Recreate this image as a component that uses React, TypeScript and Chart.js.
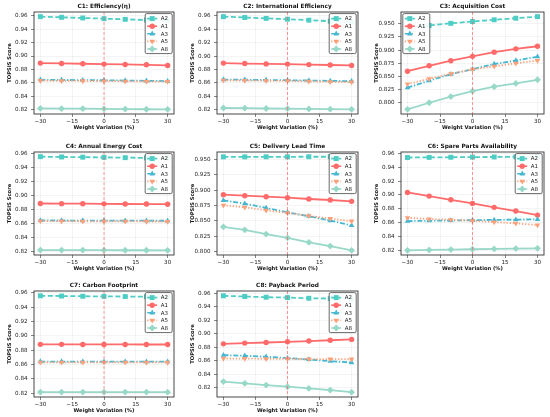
import { useEffect, useRef } from "react";
import { Chart, registerables } from "chart.js";
import type { Plugin } from "chart.js";
import { drawPoint } from "chart.js/helpers";

Chart.register(...registerables);

const weightVariation = [-30, -20, -10, 0, 10, 20, 30];
const alternatives = ["A2", "A1", "A3", "A5", "A8"];
const criteria = [
  "C1: Efficiency(η)",
  "C2: International Efficiency",
  "C3: Acquisition Cost",
  "C4: Annual Energy Cost",
  "C5: Delivery Lead Time",
  "C6: Spare Parts Availability",
  "C7: Carbon Footprint",
  "C8: Payback Period",
];

// rows follow the alternatives order: A2, A1, A3, A5, A8
const c1Scores = [
  [0.9585, 0.9575, 0.9565, 0.9555, 0.9545, 0.9535, 0.9525],
  [0.8895, 0.889, 0.8885, 0.888, 0.8875, 0.887, 0.886],
  [0.8648, 0.8645, 0.8642, 0.864, 0.8636, 0.8632, 0.8628],
  [0.8634, 0.8632, 0.863, 0.8628, 0.8625, 0.8622, 0.862],
  [0.8222, 0.822, 0.8218, 0.8215, 0.8213, 0.821, 0.8208],
];
const c2Scores = [
  [0.9588, 0.9575, 0.9562, 0.955, 0.9535, 0.952, 0.9507],
  [0.8895, 0.8888, 0.8883, 0.888, 0.8873, 0.8867, 0.886],
  [0.865, 0.8647, 0.8643, 0.864, 0.8635, 0.863, 0.8625],
  [0.8637, 0.8635, 0.8632, 0.863, 0.8623, 0.8617, 0.861],
  [0.8225, 0.8222, 0.8218, 0.8215, 0.8212, 0.8208, 0.8205],
];
const c3Scores = [
  [0.9415, 0.947, 0.951, 0.9545, 0.9578, 0.9608, 0.9638],
  [0.8596, 0.87, 0.8797, 0.888, 0.896, 0.9023, 0.9073],
  [0.8282, 0.8414, 0.854, 0.8635, 0.8734, 0.88, 0.8872],
  [0.8351, 0.8452, 0.8546, 0.863, 0.869, 0.8747, 0.88],
  [0.7868, 0.7994, 0.8113, 0.8215, 0.83, 0.8364, 0.8433],
];
const c4Scores = [
  [0.9557, 0.9553, 0.955, 0.9547, 0.9543, 0.954, 0.9537],
  [0.8885, 0.8883, 0.8882, 0.888, 0.8878, 0.8877, 0.8875],
  [0.8642, 0.8641, 0.864, 0.864, 0.8639, 0.8638, 0.8637],
  [0.8632, 0.8631, 0.863, 0.8629, 0.8628, 0.8627, 0.8626],
  [0.8217, 0.8216, 0.8216, 0.8215, 0.8214, 0.8214, 0.8213],
];
const c5Scores = [
  [0.9545, 0.9545, 0.9546, 0.9546, 0.9547, 0.9547, 0.9548],
  [0.8926, 0.891, 0.8894, 0.8877, 0.8856, 0.884, 0.8818],
  [0.8834, 0.878, 0.871, 0.8639, 0.8574, 0.8504, 0.8423],
  [0.8753, 0.872, 0.8672, 0.8628, 0.858, 0.8536, 0.8493],
  [0.8401, 0.8352, 0.8282, 0.8222, 0.8147, 0.8087, 0.8017],
];
const c6Scores = [
  [0.9538, 0.954, 0.9542, 0.9544, 0.9546, 0.9548, 0.955],
  [0.9036, 0.8984, 0.8931, 0.8879, 0.8822, 0.8769, 0.8711],
  [0.8625, 0.863, 0.8634, 0.8638, 0.8642, 0.8646, 0.865],
  [0.8673, 0.8654, 0.8644, 0.863, 0.8611, 0.8592, 0.8568],
  [0.8205, 0.821, 0.8215, 0.822, 0.8225, 0.823, 0.8234],
];
const c7Scores = [
  [0.9558, 0.9555, 0.9552, 0.955, 0.9548, 0.9545, 0.9543],
  [0.8881, 0.8881, 0.888, 0.888, 0.888, 0.8879, 0.8879],
  [0.8641, 0.8641, 0.864, 0.864, 0.864, 0.8639, 0.8639],
  [0.8631, 0.8631, 0.863, 0.863, 0.863, 0.8629, 0.8629],
  [0.8216, 0.8215, 0.8215, 0.8215, 0.8215, 0.8215, 0.8214],
];
const c8Scores = [
  [0.9565, 0.9555, 0.9544, 0.9539, 0.9529, 0.9524, 0.9515],
  [0.8852, 0.8863, 0.8872, 0.8882, 0.8893, 0.8905, 0.8918],
  [0.8685, 0.8675, 0.866, 0.864, 0.862, 0.8594, 0.8574],
  [0.8635, 0.8632, 0.863, 0.8628, 0.8626, 0.8625, 0.8624],
  [0.8291, 0.8266, 0.824, 0.8215, 0.819, 0.8165, 0.8134],
];
const allScores = [c1Scores, c2Scores, c3Scores, c4Scores, c5Scores, c6Scores, c7Scores, c8Scores];

const yTickSteps = [0.02, 0.02, 0.025, 0.02, 0.025, 0.02, 0.02, 0.02];
const legendSides = ["right", "right", "left", "right", "right", "right", "right", "right"];

const seriesStyles = [
  { color: "#4ECDC4", dash: [5, 2.5], pointStyle: "rect", radius: 3.5, rotation: 0 },
  { color: "#FF6B6B", dash: [], pointStyle: "circle", radius: 2.7, rotation: 0 },
  { color: "#45B7D1", dash: [5, 1.8, 1.3, 1.8], pointStyle: "triangle", radius: 3.2, rotation: 0 },
  { color: "#FFA07A", dash: [1.3, 1.8], pointStyle: "triangle", radius: 3.2, rotation: 180 },
  { color: "#98D8C8", dash: [], pointStyle: "rectRot", radius: 3.4, rotation: 0 },
];

// plot-area boxes, per column and per row
const colLeft = [33.5, 217, 400.5];
const colWidth = [141, 142, 144];
const rowTop = [12, 152, 291];
const rowHeight = [102, 103, 106];
const Y_AXIS_W = 34;
const TOP_H = 12;
const X_AXIS_H = 18;
const RIGHT_PAD = 3;

const FONT = "'DejaVu Sans', sans-serif";

const panelPlugin: Plugin<"line"> = {
  id: "panelDecor",
  afterDatasetsDraw(chart) {
    const { ctx, chartArea, scales } = chart;
    const x0 = scales.x.getPixelForValue(0);
    ctx.save();
    ctx.strokeStyle = "rgba(255,90,90,0.7)";
    ctx.lineWidth = 0.9;
    ctx.setLineDash([3, 2]);
    ctx.beginPath();
    ctx.moveTo(x0, chartArea.top);
    ctx.lineTo(x0, chartArea.bottom);
    ctx.stroke();
    ctx.restore();
  },
  afterDraw(chart, _args, opts: any) {
    const { ctx, chartArea } = chart;
    ctx.save();
    ctx.strokeStyle = "#333";
    ctx.lineWidth = 0.9;
    ctx.strokeRect(chartArea.left, chartArea.top, chartArea.width, chartArea.height);

    // panel title, centred over the plot area
    ctx.fillStyle = "#111";
    ctx.font = `bold 5.8px ${FONT}`;
    ctx.textAlign = "center";
    ctx.textBaseline = "middle";
    ctx.fillText(opts.title, (chartArea.left + chartArea.right) / 2, chartArea.top - 6);

    // legend box inside the plot
    const w = 27;
    const h = 40;
    const bx = opts.side === "left" ? chartArea.left + 1.8 : chartArea.right - 1.8 - w;
    const by = chartArea.top + 1.6;
    ctx.beginPath();
    ctx.roundRect(bx, by, w, h, 1.5);
    ctx.fillStyle = "rgba(255,255,255,0.9)";
    ctx.fill();
    ctx.strokeStyle = "#444";
    ctx.lineWidth = 0.8;
    ctx.stroke();

    ctx.font = `5.5px ${FONT}`;
    ctx.textBaseline = "middle";
    ctx.textAlign = "left";
    alternatives.forEach((name, i) => {
      const st = seriesStyles[i];
      const y = by + 5 + i * 7.6;
      ctx.strokeStyle = st.color;
      ctx.fillStyle = st.color;
      ctx.lineWidth = 1.6;
      ctx.setLineDash(st.dash);
      ctx.beginPath();
      ctx.moveTo(bx + 2, y);
      ctx.lineTo(bx + 12, y);
      ctx.stroke();
      ctx.setLineDash([]);
      drawPoint(
        ctx,
        { radius: st.radius, pointStyle: st.pointStyle as any, rotation: st.rotation, borderWidth: 0 },
        bx + 7,
        y,
      );
      ctx.fillStyle = "#222";
      ctx.fillText(name, bx + 15.5, y + 0.3);
    });
    ctx.restore();
  },
};

function Panel({ index }: { index: number }) {
  const canvasRef = useRef<HTMLCanvasElement | null>(null);
  const col = index % 3;
  const row = Math.floor(index / 3);
  const width = Y_AXIS_W + colWidth[col] + RIGHT_PAD;
  const height = TOP_H + rowHeight[row] + X_AXIS_H;

  useEffect(() => {
    const canvasElement = canvasRef.current;
    if (!canvasElement) {
      return;
    }
    const scores = allScores[index];
    const flat = scores.flat();
    const lo = Math.min(...flat);
    const hi = Math.max(...flat);
    const margin = (hi - lo) * 0.05;
    const step = yTickSteps[index];
    const decimals = step === 0.025 ? 3 : 2;

    const chart = new Chart(canvasElement, {
      type: "line",
      data: {
        datasets: alternatives.map((name, s) => ({
          label: name,
          data: weightVariation.map((x, i) => ({ x, y: scores[s][i] })),
          borderColor: seriesStyles[s].color,
          backgroundColor: seriesStyles[s].color,
          borderWidth: 1.8,
          borderDash: seriesStyles[s].dash,
          pointStyle: seriesStyles[s].pointStyle as any,
          pointRadius: seriesStyles[s].radius,
          pointRotation: seriesStyles[s].rotation,
          pointBackgroundColor: seriesStyles[s].color,
          pointBorderColor: seriesStyles[s].color,
          pointBorderWidth: 0,
          tension: 0,
          fill: false,
          order: alternatives.length - s,
        })),
      },
      options: {
        animation: false,
        responsive: false,
        devicePixelRatio: 1,
        layout: { padding: { left: 0, right: RIGHT_PAD, top: TOP_H, bottom: 0 } },
        events: [],
        scales: {
          x: {
            type: "linear",
            min: -33,
            max: 33,
            afterFit(scale) {
              scale.height = X_AXIS_H;
            },
            ticks: {
              stepSize: 15,
              includeBounds: false,
              autoSkip: false,
              maxRotation: 0,
              padding: 1,
              color: "#222",
              font: { family: FONT, size: 5.6 },
              callback(value) {
                const v = Number(value);
                return v < 0 ? `\u2212${Math.abs(v)}` : `${v}`;
              },
            },
            grid: {
              color: "rgba(0,0,0,0.08)",
              lineWidth: 0.6,
              tickColor: "#333",
              tickLength: 3,
            },
            border: { display: false },
            title: {
              display: true,
              text: "Weight Variation (%)",
              color: "#111",
              font: { family: FONT, size: 5.2, weight: "bold" },
              padding: { top: 0, bottom: 1.6 },
            },
          },
          y: {
            type: "linear",
            min: lo - margin,
            max: hi + margin,
            afterFit(scale) {
              scale.width = Y_AXIS_W;
            },
            ticks: {
              stepSize: step,
              includeBounds: false,
              autoSkip: false,
              padding: 3.5,
              color: "#222",
              font: { family: FONT, size: 5.6 },
              callback(value) {
                return Number(value).toFixed(decimals);
              },
            },
            grid: {
              color: "rgba(0,0,0,0.08)",
              lineWidth: 0.6,
              tickColor: "#333",
              tickLength: 3,
            },
            border: { display: false },
            title: {
              display: true,
              text: "TOPSIS Score",
              color: "#111",
              font: { family: FONT, size: 5.2, weight: "bold" },
              padding: { top: 6.4, bottom: 0 },
            },
          },
        },
        plugins: {
          legend: { display: false },
          tooltip: { enabled: false },
          title: { display: false },
          panelDecor: { side: legendSides[index], title: criteria[index] },
        } as any,
      },
      plugins: [panelPlugin],
    });

    return () => {
      chart.destroy();
    };
  }, [index]);

  return (
    <div
      style={{
        position: "absolute",
        left: colLeft[col] - Y_AXIS_W,
        top: rowTop[row] - TOP_H,
        width,
        height,
      }}
    >
      <canvas ref={canvasRef} width={width} height={height} style={{ width, height, display: "block" }} />
    </div>
  );
}

export default function App() {
  return (
    <div
      style={{
        position: "fixed",
        left: 0,
        top: 0,
        width: 550,
        height: 417,
        background: "#fff",
        overflow: "hidden",
      }}
    >
      {criteria.map((_, i) => (
        <Panel key={i} index={i} />
      ))}
    </div>
  );
}
